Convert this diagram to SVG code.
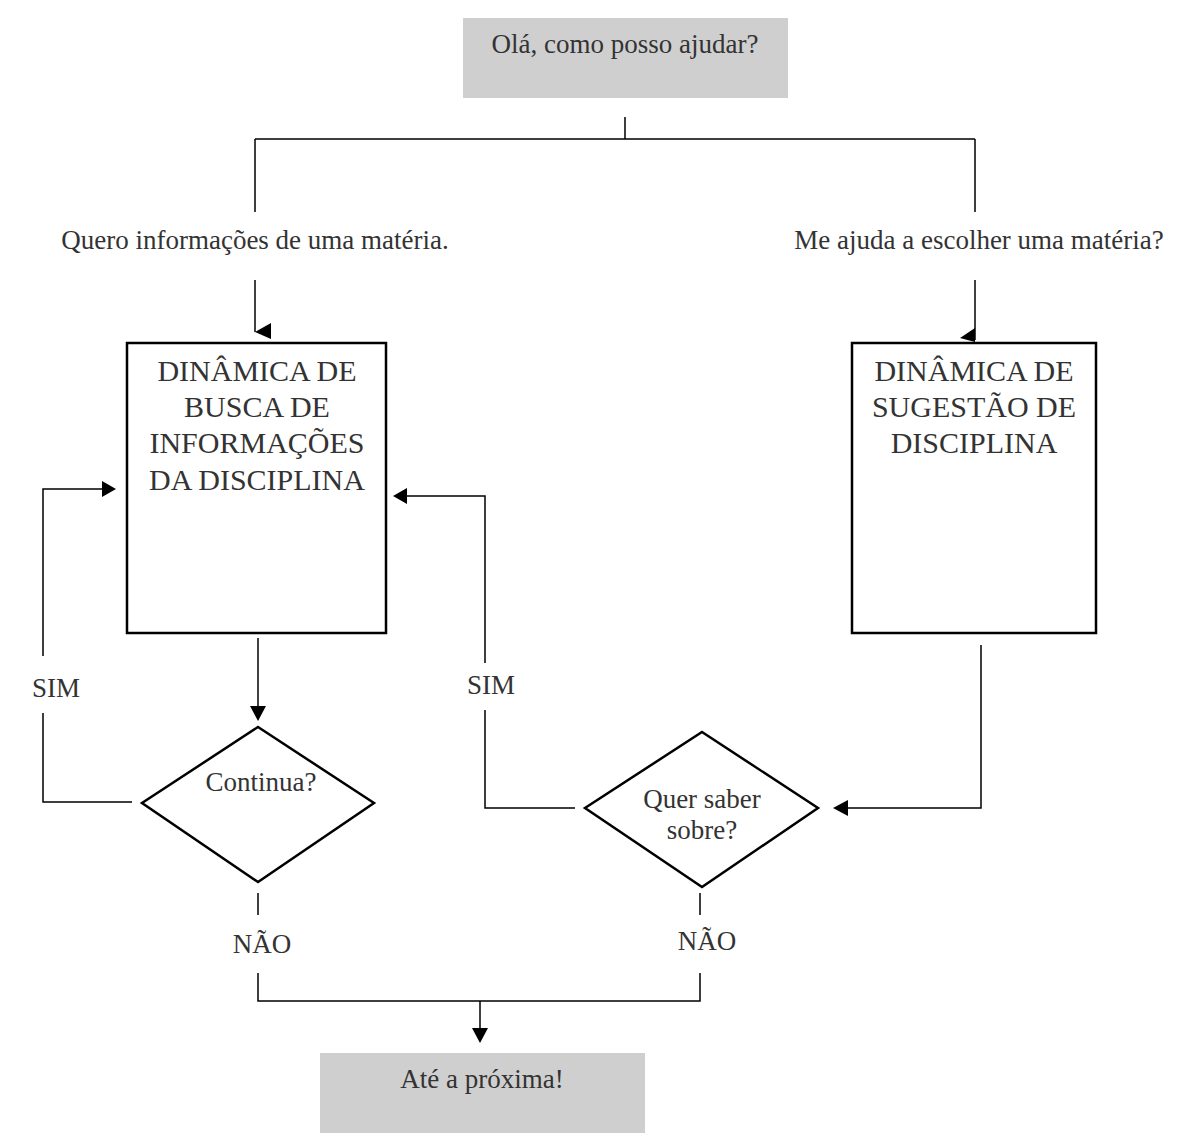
<svg xmlns="http://www.w3.org/2000/svg" width="1177" height="1147" viewBox="0 0 1177 1147">
<style>
text{fill:#333;text-anchor:middle}
.ln{fill:none;stroke:#000;stroke-width:1.5}
.box{fill:#fff;stroke:#000;stroke-width:2.5}
.gray{fill:#d0cfd0}
.ah{fill:#000}
</style>
<rect width="1177" height="1147" fill="#fff"/>
<g id="connectors">
<path class="ln" d="M625,117V139M255,139H975M255,139V212M975,139V212"/>
<path class="ln" d="M255,280V332"/>
<polygon class="ah" points="255,332 271,323 271,339"/>
<path class="ln" d="M975,280V340"/>
<polygon class="ah" points="960,338 975,328 975,342"/>
<path class="ln" d="M258,638V706"/>
<polygon class="ah" points="250,706 266,706 258,721"/>
<path class="ln" d="M132,802H43V713M43,656V489H102"/>
<polygon class="ah" points="102,481 102,497 116,489"/>
<path class="ln" d="M981,645V808H848"/>
<polygon class="ah" points="848,800 848,816 833,808"/>
<path class="ln" d="M575,808H485V710M485,663V496H407"/>
<polygon class="ah" points="407,488 407,504 393,496"/>
<path class="ln" d="M258,893V915M258,973V1001H700V973M700,893V915"/>
<path class="ln" d="M480,1001V1028"/>
<polygon class="ah" points="472,1028 488,1028 480,1043"/>
</g>
<g font-family="Liberation Serif, Times New Roman, serif" font-size="27">
<g id="start">
<rect class="gray" x="463" y="18" width="325" height="80"/>
<text x="625" y="53">Olá, como posso ajudar?</text>
</g>
<g id="label-left">
<text x="255" y="249">Quero informações de uma matéria.</text>
</g>
<g id="label-right">
<text x="979" y="249">Me ajuda a escolher uma matéria?</text>
</g>
<g id="box-busca" font-size="30">
<rect class="box" x="127" y="343" width="259" height="290"/>
<text x="257" y="381">DINÂMICA DE</text>
<text x="257" y="417">BUSCA DE</text>
<text x="257" y="453">INFORMAÇÕES</text>
<text x="257" y="490">DA DISCIPLINA</text>
</g>
<g id="box-sugestao" font-size="30">
<rect class="box" x="852" y="343" width="244" height="290"/>
<text x="974" y="381">DINÂMICA DE</text>
<text x="974" y="417">SUGESTÃO DE</text>
<text x="974" y="453">DISCIPLINA</text>
</g>
<g id="dec-continua">
<polygon class="box" points="258,727 374,803 258,882 142,803"/>
<text x="261" y="791">Continua?</text>
</g>
<g id="dec-quer">
<polygon class="box" points="702,732 818,808 702,887 585,808"/>
<text x="702" y="808">Quer saber</text>
<text x="702" y="839">sobre?</text>
</g>
<g id="labels">
<text x="56" y="697">SIM</text>
<text x="491" y="694">SIM</text>
<text x="262" y="953">NÃO</text>
<text x="707" y="950">NÃO</text>
</g>
<g id="end">
<rect class="gray" x="320" y="1053" width="325" height="80"/>
<text x="482" y="1088">Até a próxima!</text>
</g>
</g>
</svg>
